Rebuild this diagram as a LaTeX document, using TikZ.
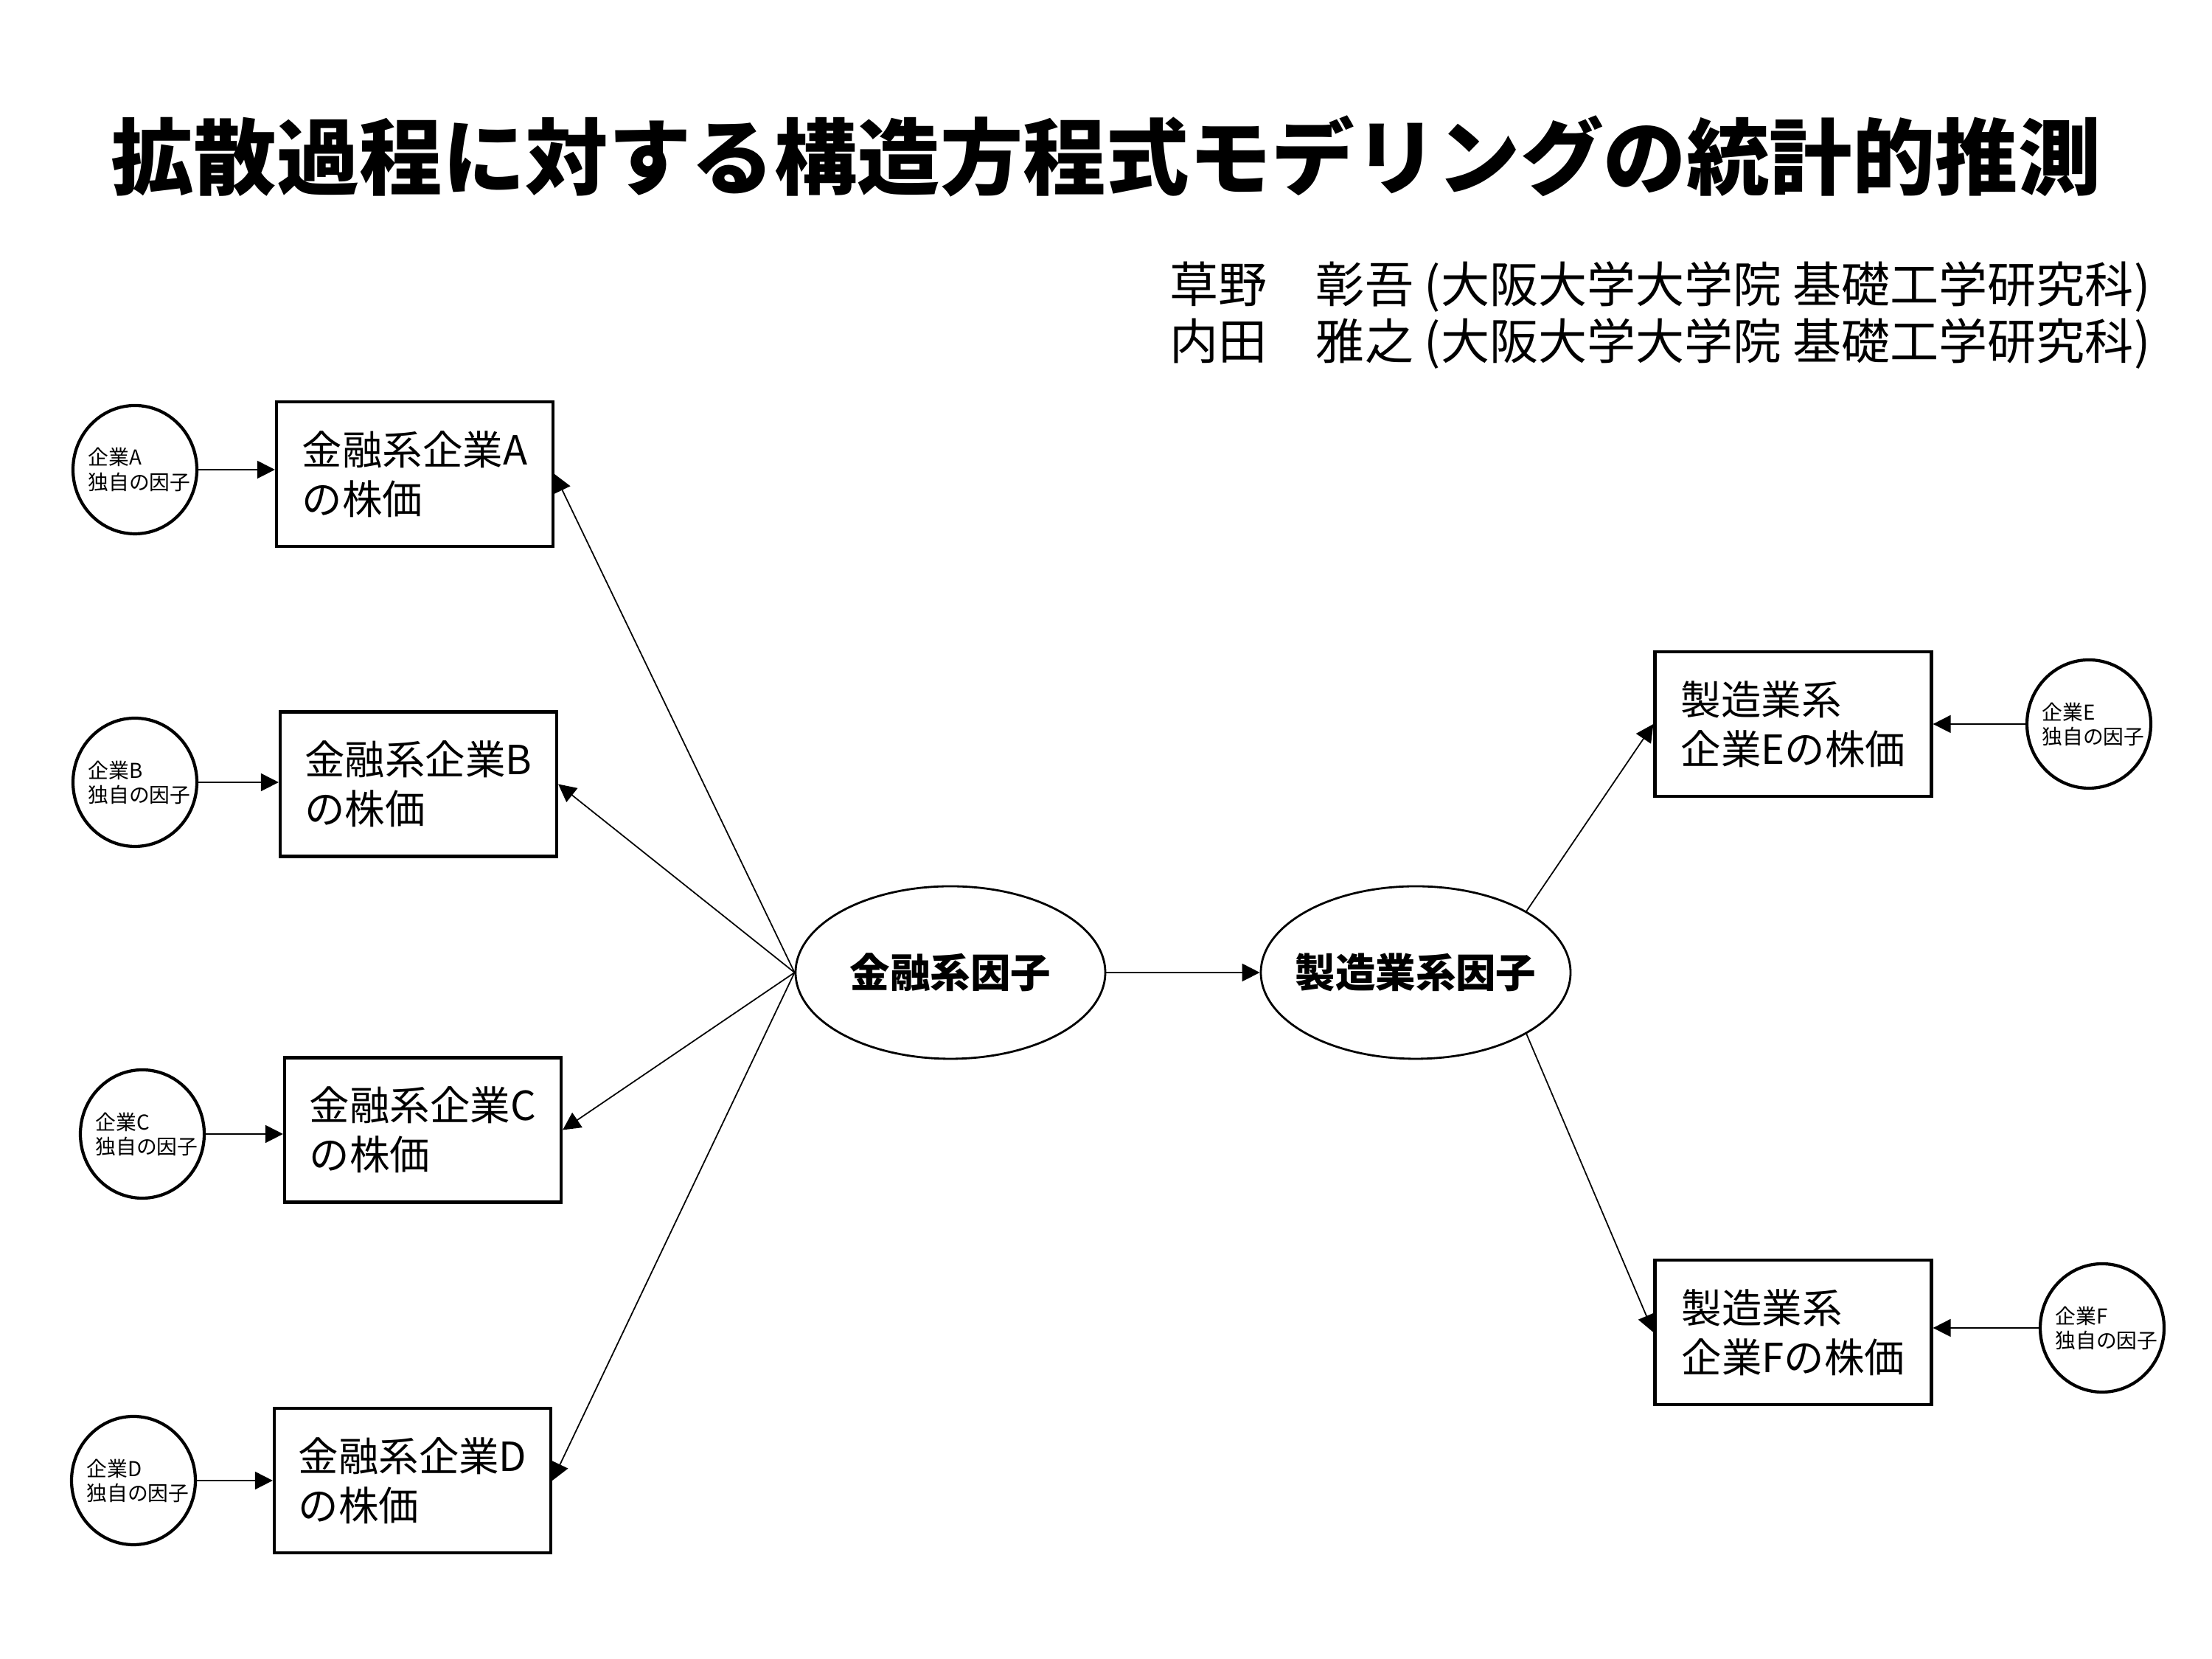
\documentclass[tikz,border=0pt]{standalone}
\usepackage{fontspec}
\setmainfont{Noto Sans CJK JP}
\usetikzlibrary{arrows.meta,shapes.geometric}
\begin{document}
\begin{tikzpicture}[
  boxnode/.style={draw, line width=1.2pt, rectangle, minimum width=3.75cm, minimum height=1.96cm, align=left, font=\fontsize{15.5pt}{19pt}\selectfont, inner sep=0pt},
  smallell/.style={draw, line width=1.2pt, ellipse, minimum width=1.68cm, minimum height=1.74cm, inner sep=0pt},
  smalltxt/.style={align=left, font=\fontsize{7.9pt}{9.4pt}\selectfont, inner sep=0pt, xshift=0.06cm},
  bigell/.style={draw, line width=0.8pt, ellipse, minimum width=4.2cm, minimum height=2.34cm, inner sep=0pt},
  bigtxt/.style={font=\fontsize{15.5pt}{19pt}\selectfont\bfseries, inner sep=0pt},
  conn/.style={line width=0.5pt, -{Triangle[length=0.24cm,width=0.24cm]}},
  plaintext/.style={inner sep=0pt},
]
\fill[white] (0,0) rectangle (30,22.5);
\useasboundingbox (0,0) rectangle (30,22.5);

% title and authors
\node[plaintext, anchor=base, font=\fontsize{32pt}{38pt}\selectfont\bfseries] (title) at (15,19.94)
  {拡散過程に対する構造方程式モデリングの統計的推測};
\node[plaintext, anchor=base west, font=\fontsize{18.8pt}{22pt}\selectfont] (au1) at (15.86,18.39)
  {草野　彰吾 (大阪大学大学院 基礎工学研究科)};
\node[plaintext, anchor=base west, font=\fontsize{18.8pt}{22pt}\selectfont] (au2) at (15.86,17.62)
  {内田　雅之 (大阪大学大学院 基礎工学研究科)};

% factors
\node[bigell, label={[bigtxt]center:金融系因子}] (kin) at (12.89,9.31) {};
\node[bigell, label={[bigtxt]center:製造業系因子}] (seiz) at (19.20,9.31) {};

% stock boxes
\node[boxnode] (bA) at (5.625,16.07) {金融系企業A\\の株価};
\node[boxnode] (bB) at (5.675,11.865) {金融系企業B\\の株価};
\node[boxnode] (bC) at (5.735,7.175) {金融系企業C\\の株価};
\node[boxnode] (bD) at (5.595,2.42) {金融系企業D\\の株価};
\node[boxnode] (bE) at (24.32,12.68) {製造業系\\企業Eの株価};
\node[boxnode] (bF) at (24.32,4.43) {製造業系\\企業Fの株価};

% idiosyncratic factors
\node[smallell, label={[smalltxt]center:{企業A\\独自の因子}}] (eA) at (1.83,16.13) {};
\node[smallell, label={[smalltxt]center:{企業B\\独自の因子}}] (eB) at (1.83,11.89) {};
\node[smallell, label={[smalltxt]center:{企業C\\独自の因子}}] (eC) at (1.93,7.12) {};
\node[smallell, label={[smalltxt]center:{企業D\\独自の因子}}] (eD) at (1.81,2.42) {};
\node[smallell, label={[smalltxt]center:{企業E\\独自の因子}}] (eE) at (28.33,12.68) {};
\node[smallell, label={[smalltxt]center:{企業F\\独自の因子}}] (eF) at (28.51,4.49) {};

% connectors
\draw[conn] (kin.east) -- (seiz.west);
\draw[conn] (kin.west) -- (bA.east);
\draw[conn] (kin.west) -- (bB.east);
\draw[conn] (kin.west) -- (bC.east);
\draw[conn] (kin.west) -- (bD.east);
\draw[conn] (seiz.29) -- (bE.west);
\draw[conn] (seiz.-29) -- (bF.west);

\draw[conn] (eA.east) -- (eA.east -| bA.west);
\draw[conn] (eB.east) -- (eB.east -| bB.west);
\draw[conn] (eC.east) -- (eC.east -| bC.west);
\draw[conn] (eD.east) -- (eD.east -| bD.west);
\draw[conn] (eE.west) -- (eE.west -| bE.east);
\draw[conn] (eF.west) -- (eF.west -| bF.east);
\end{tikzpicture}
\end{document}
